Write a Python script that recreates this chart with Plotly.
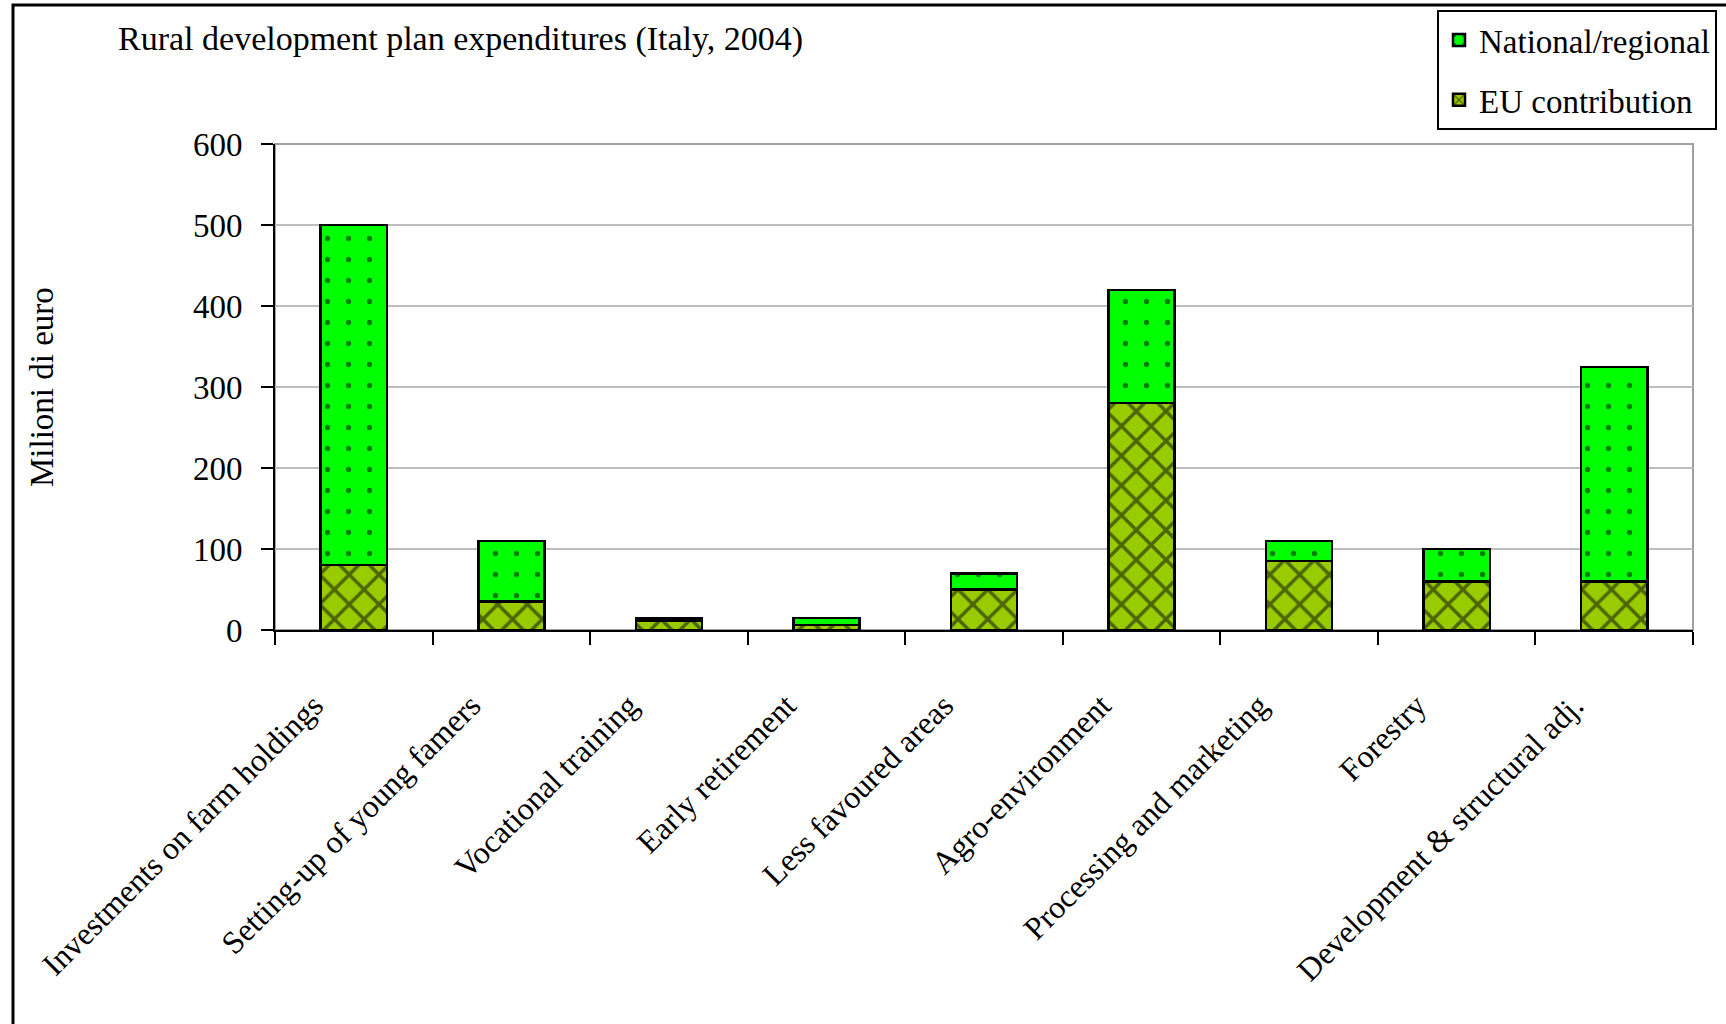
import plotly.graph_objects as go

categories = [
    "Investments on farm holdings",
    "Setting-up of young famers",
    "Vocational training",
    "Early retirement",
    "Less favoured areas",
    "Agro-environment",
    "Processing and marketing",
    "Forestry",
    "Development & structural adj.",
]
eu_contribution = [80, 35, 12, 6, 50, 280, 85, 60, 60]
national_regional = [420, 75, 3, 9, 20, 140, 25, 40, 265]

y_ticks = [0, 100, 200, 300, 400, 500, 600]

FONT = "Liberation Serif, Times New Roman, serif"

fig = go.Figure()
fig.add_trace(go.Bar(
    x=categories, y=eu_contribution, name="EU contribution",
    legendgroup="eu", legendrank=2,
    marker=dict(color="#99CC00", line=dict(color="black", width=2.5),
                pattern=dict(shape="x", fgcolor="black", size=21, solidity=0.3)),
))
fig.add_trace(go.Bar(
    x=categories, y=national_regional, name="National/regional",
    legendgroup="nat", legendrank=1,
    marker=dict(color="#00FF00", line=dict(color="black", width=2.5),
                pattern=dict(shape=".", fgcolor="black", size=21, solidity=0.05)),
))

L, R, T, B = 275, 1693, 144, 630
W, H = 1726, 1024

fig.update_layout(
    width=W, height=H, autosize=False,
    barmode="stack", bargap=0.58,
    plot_bgcolor="white", paper_bgcolor="white",
    margin=dict(l=L, r=W - R, t=T, b=H - B, pad=0, autoexpand=False),
    font=dict(family=FONT, size=32, color="black"),
    title=dict(text="Rural development plan expenditures (Italy, 2004)",
               x=118 / W, xanchor="left", xref="container",
               y=1 - 38 / H, yanchor="middle", yref="container",
               font=dict(family=FONT, size=34, color="black")),
    showlegend=True,
    legend=dict(x=(1437 - L) / (R - L), y=(B - 10) / (B - T),
                xanchor="left", yanchor="top",
                traceorder="grouped", tracegroupgap=14,
                bordercolor="black", borderwidth=2, bgcolor="white",
                font=dict(family=FONT, size=33, color="black")),
    xaxis=dict(
        showline=True, linecolor="black", linewidth=2,
        ticks="outside", ticklen=13, tickwidth=2, tickcolor="black",
        tickson="boundaries", tickangle=-45,
        tickfont=dict(family=FONT, size=32, color="black"),
        ticklabelstandoff=42, ticklabelshift=-40,
        showgrid=False,
    ),
    yaxis=dict(
        range=[0, 600], tickvals=y_ticks, ticktext=[str(v) for v in y_ticks],
        showline=True, linecolor="black", linewidth=2,
        ticks="outside", ticklen=12, tickwidth=2, tickcolor="black",
        showgrid=True, gridcolor="#BDBDBD", gridwidth=1.5,
        tickfont=dict(family=FONT, size=33, color="black"),
        ticklabelstandoff=12,
        zeroline=False,
    ),
    annotations=[
        dict(text="Milioni di euro", xref="paper", yref="paper",
             x=(42 - L) / (R - L), y=0.5, xanchor="center", yanchor="middle",
             textangle=-90, showarrow=False,
             font=dict(family=FONT, size=33, color="black")),
    ],
    shapes=[
        # gray plot-area border (top and right)
        dict(type="rect", xref="paper", yref="paper", x0=0, x1=1, y0=0, y1=1,
             line=dict(color="#A0A0A0", width=2), layer="below"),
        # outer chart frame
        dict(type="rect", xref="paper", yref="paper",
             x0=(13 - L) / (R - L), x1=(1740 - L) / (R - L),
             y0=(B - 1040) / (B - T), y1=(B - 5) / (B - T),
             line=dict(color="black", width=3)),
    ],
)

fig.write_html("out.html")
